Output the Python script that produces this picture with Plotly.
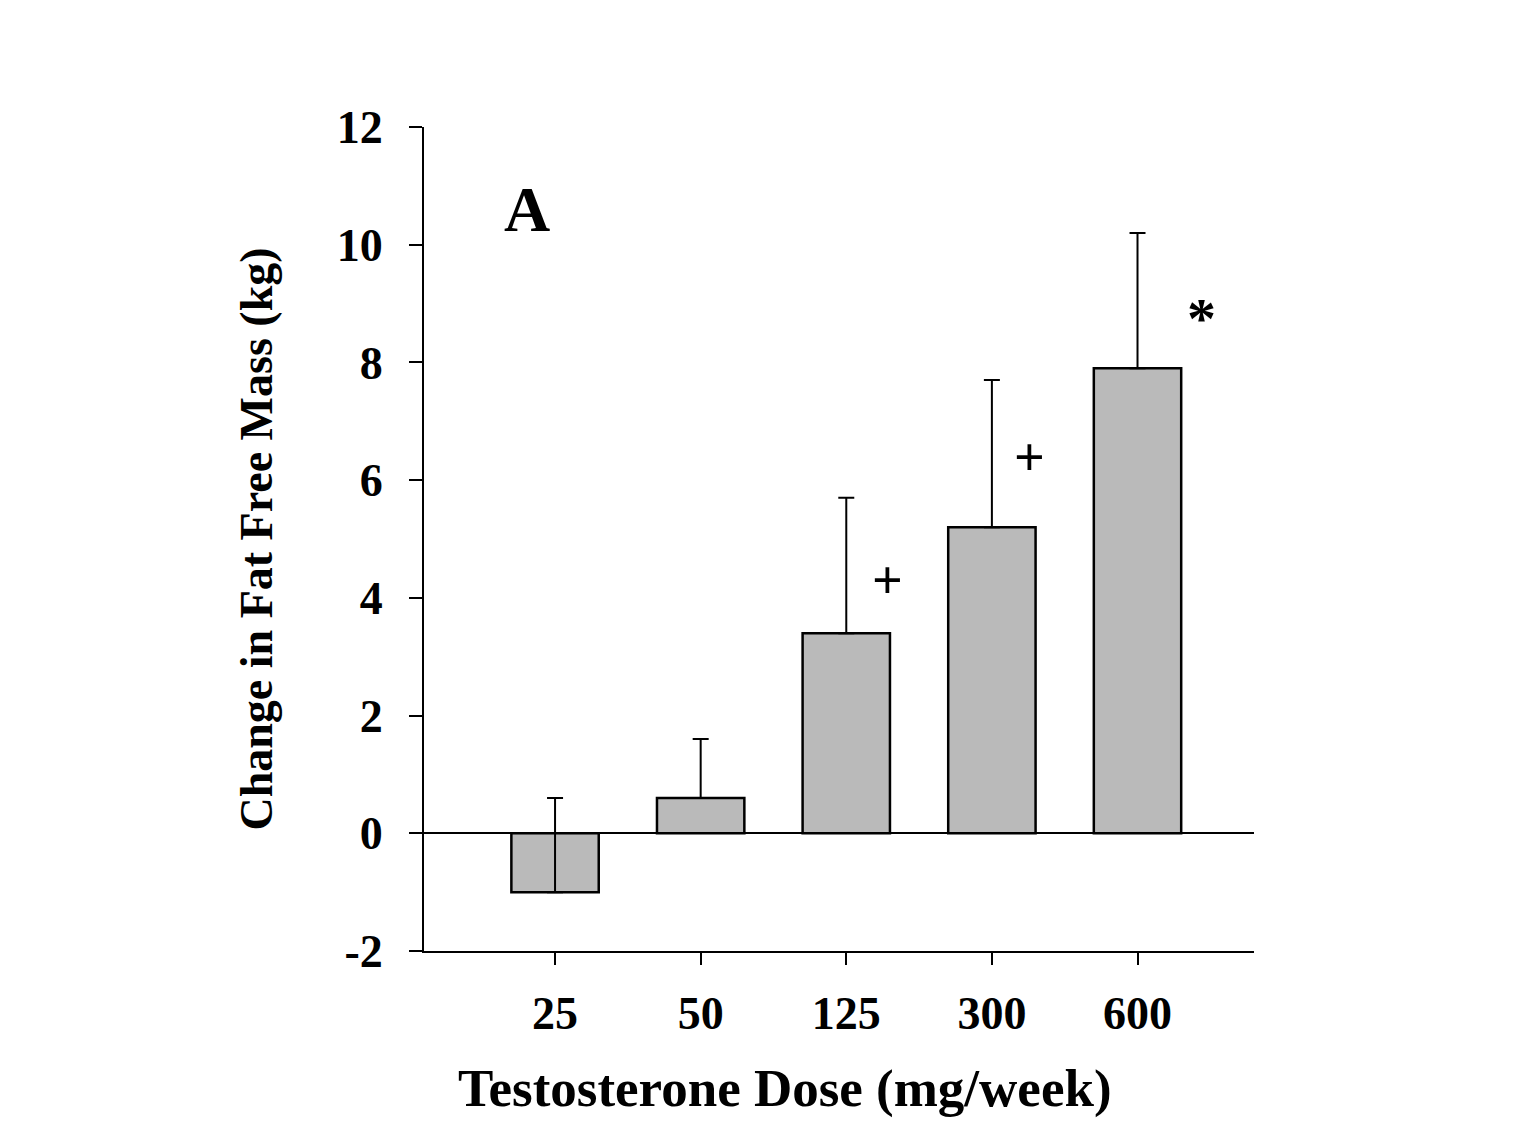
import plotly.graph_objects as go

doses = ["25", "50", "125", "300", "600"]
change_ffm = [-1.0, 0.6, 3.4, 5.2, 7.9]
sd_upper = [1.6, 1.0, 2.3, 2.5, 2.3]

sig_marks = ["+", "+", "*"]
sig_x = [2.28, 3.26, 4.44]
sig_y = [4.3, 6.4, 8.75]

FONT = "Liberation Serif"

fig = go.Figure()
fig.add_trace(go.Bar(
    x=list(range(len(doses))),
    y=change_ffm,
    width=0.6,
    marker=dict(color="#bababa", line=dict(color="black", width=2.5)),
    error_y=dict(type="data", symmetric=False, array=sd_upper,
                 arrayminus=[0] * len(doses), color="black",
                 thickness=2, width=8),
    showlegend=False,
))

annotations = []
for m, x, y in zip(sig_marks, sig_x, sig_y):
    annotations.append(dict(x=x, y=y, xref="x", yref="y", text="<b>%s</b>" % m,
                            showarrow=False,
                            font=dict(family=FONT, size=54 if m == "+" else 58, color="black")))
annotations.append(dict(x=-0.19, y=10.6, xref="x", yref="y", text="<b>A</b>",
                        showarrow=False, font=dict(family=FONT, size=64, color="black")))
annotations.append(dict(x=(785 - 424) / 830, y=-(1088 - 951) / 824, xref="paper", yref="paper",
                        text="<b>Testosterone Dose (mg/week)</b>", showarrow=False,
                        xanchor="center", yanchor="middle",
                        font=dict(family=FONT, size=53, color="black")))

fig.update_layout(
    width=1518, height=1148,
    margin=dict(l=424, r=264, t=127, b=197),
    plot_bgcolor="white", paper_bgcolor="white",
    font=dict(family=FONT, color="black"),
    annotations=annotations,
    xaxis=dict(
        range=[-0.9, 4.8],
        tickmode="array", tickvals=list(range(len(doses))),
        ticktext=["<b>%s</b>" % d for d in doses],
        tickfont=dict(family=FONT, size=46),
        ticks="outside", ticklen=12, tickwidth=2, tickcolor="black",
        ticklabelstandoff=9,
        showline=True, linecolor="black", linewidth=2,
        showgrid=False, zeroline=False,
    ),
    yaxis=dict(
        range=[-2, 12], tickvals=[-2, 0, 2, 4, 6, 8, 10, 12],
        ticktext=["<b>%d</b>" % v for v in [-2, 0, 2, 4, 6, 8, 10, 12]],
        tickfont=dict(family=FONT, size=46),
        ticks="outside", ticklen=13, tickwidth=2, tickcolor="black",
        ticklabelstandoff=17,
        showline=True, linecolor="black", linewidth=2,
        showgrid=False,
        zeroline=True, zerolinecolor="black", zerolinewidth=2,
        title=dict(text="<b>Change in Fat Free Mass (kg)</b>",
                   font=dict(family=FONT, size=46), standoff=50),
    ),
)

fig.write_html("out.html")
